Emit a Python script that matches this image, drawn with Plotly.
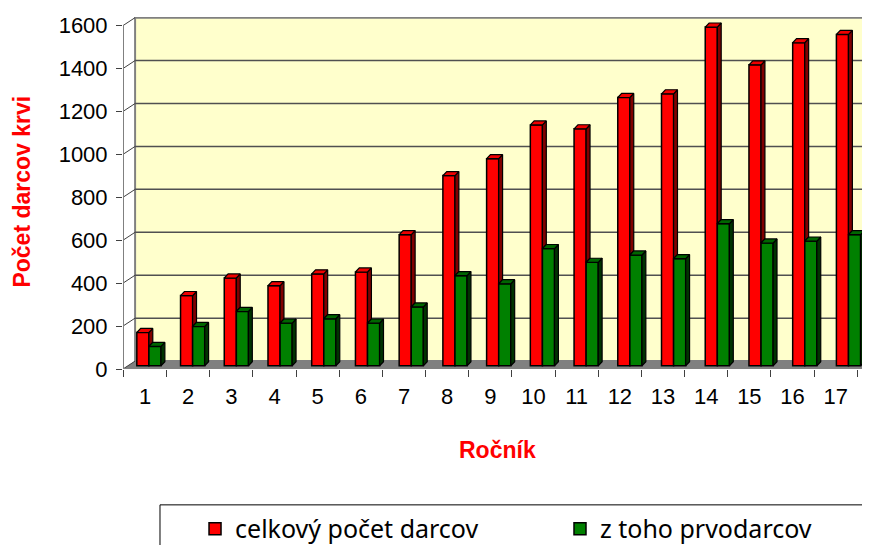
import plotly.graph_objects as go

# data
rocnik = list(range(1, 18))
rocnik_labels = [str(r) for r in rocnik]
celkovy_pocet = [155, 327, 409, 373, 428, 437, 611, 886, 965, 1122, 1104, 1250, 1267, 1578, 1402, 1505, 1544]
prvodarcovia = [90, 183, 253, 199, 219, 199, 274, 420, 382, 546, 482, 516, 499, 662, 572, 581, 611]
y_ticks = [0, 200, 400, 600, 800, 1000, 1200, 1400, 1600]

# fake 3d geometry (data units)
x_lo, x_hi = 0.49, 17.98
wall_dx, wall_dy = 0.28, 37
bar_dx, bar_dy = 0.09, 19
bar_base = 15
bar_w = 0.28
# perspective: the bars drift slightly right of their labels towards the right side
red_off = [-0.19 + 0.0129 * i for i in range(len(rocnik))]
green_off = [o + bar_w for o in red_off]

RED, RED_SIDE, RED_TOP = "#FF0000", "#800000", "#F00000"
GREEN, GREEN_SIDE, GREEN_TOP = "#008000", "#003300", "#006600"


def side_and_top(xs, vals, offs, lower=None):
    side_x, side_y, top_x, top_y = [], [], [], []
    for i, (x, v, off) in enumerate(zip(xs, vals, offs)):
        xl = x + off
        xr = xl + bar_w
        top = bar_base + v
        bottom = bar_base if lower is None else bar_base + lower[i]
        side_x += [xr, xr + bar_dx, xr + bar_dx, xr, xr, None]
        side_y += [bottom, bottom + bar_dy, top + bar_dy, top, bottom, None]
        top_x += [xl, xl + bar_dx, xr + bar_dx, xr, xl, None]
        top_y += [top, top + bar_dy, top + bar_dy, top, top, None]
    return side_x, side_y, top_x, top_y


fig = go.Figure()

for vals, offs, lower, c_side, c_top in [
    (celkovy_pocet, red_off, prvodarcovia, RED_SIDE, RED_TOP),
    (prvodarcovia, green_off, None, GREEN_SIDE, GREEN_TOP),
]:
    sx, sy, tx, ty = side_and_top(rocnik, vals, offs, lower)
    fig.add_trace(go.Scatter(x=sx, y=sy, mode="lines", fill="toself", fillcolor=c_side,
                             line=dict(color="black", width=1.2), showlegend=False, hoverinfo="skip"))
    fig.add_trace(go.Scatter(x=tx, y=ty, mode="lines", fill="toself", fillcolor=c_top,
                             line=dict(color="black", width=1.2), showlegend=False, hoverinfo="skip"))

fig.add_trace(go.Bar(x=rocnik, y=celkovy_pocet, base=bar_base, offset=red_off, width=bar_w,
                     name="celkový počet darcov", legend="legend",
                     marker=dict(color=RED, line=dict(color="black", width=1.5))))
fig.add_trace(go.Bar(x=rocnik, y=prvodarcovia, base=bar_base, offset=green_off, width=bar_w,
                     name="z toho prvodarcov", legend="legend2",
                     marker=dict(color=GREEN, line=dict(color="black", width=1.5))))

shapes = []
# back wall
shapes.append(dict(type="rect", xref="x", yref="y", x0=x_lo + wall_dx, x1=x_hi + 0.5,
                   y0=wall_dy, y1=1600 + wall_dy, fillcolor="#FFFFCC",
                   line=dict(color="#808080", width=2), layer="below"))
# floor
shapes.append(dict(type="path", xref="x", yref="y", layer="below",
                   path=f"M{x_lo},0 L{x_hi + 0.5},0 L{x_hi + 0.5},{wall_dy} L{x_lo + wall_dx},{wall_dy} Z",
                   fillcolor="#808080", line=dict(width=0)))
# gridlines on the back wall + slanted ticks on the side wall
for v in y_ticks:
    if 0 < v < 1600:
        shapes.append(dict(type="line", xref="x", yref="y", layer="below",
                           x0=x_lo + wall_dx, x1=x_hi + 0.5, y0=v + wall_dy, y1=v + wall_dy,
                           line=dict(color="#505050", width=1.5)))
    shapes.append(dict(type="line", xref="x", yref="y", layer="below",
                       x0=x_lo, x1=x_lo + wall_dx, y0=v, y1=v + wall_dy,
                       line=dict(color="#404040", width=1)))
# front axis lines
shapes.append(dict(type="line", xref="x", yref="y", x0=x_lo, x1=x_lo, y0=0, y1=1600,
                   line=dict(color="#808080", width=2), layer="below"))
shapes.append(dict(type="line", xref="x", yref="y", x0=x_lo, x1=x_hi + 0.5, y0=0, y1=0,
                   line=dict(color="#808080", width=2), layer="below"))
# legend box
shapes.append(dict(type="rect", xref="paper", yref="paper", x0=0.049, x1=0.9868,
                   y0=-0.386, y1=-0.58, line=dict(color="black", width=1)))

title_font = dict(family="Liberation Sans", size=23, color="#FF0000")
legend_font = dict(family="Noto Sans", size=25, color="black")

# the page body has an 8px margin, so the margins are shifted by it
fig.update_layout(
    width=870, height=545,
    margin=dict(l=115, r=0, t=9, b=184, autoexpand=False),
    paper_bgcolor="white", plot_bgcolor="white",
    barmode="overlay",
    shapes=shapes,
    font=dict(family="Liberation Sans", size=22, color="black"),
    showlegend=True,
    legend=dict(orientation="h", x=0.0954, xanchor="left", y=-0.4545, yanchor="middle",
                font=legend_font, bgcolor="rgba(0,0,0,0)"),
    legend2=dict(orientation="h", x=0.5788, xanchor="left", y=-0.4545, yanchor="middle",
                 font=legend_font, bgcolor="rgba(0,0,0,0)"),
    annotations=[
        dict(text="<b>Počet darcov krvi</b>", xref="paper", yref="paper", x=-0.1338, y=0.504,
             textangle=-90, showarrow=False, xanchor="center", yanchor="middle", font=title_font),
        dict(text="<b>Ročník</b>", xref="paper", yref="paper", x=0.4954, y=-0.23,
             showarrow=False, xanchor="center", yanchor="middle", font=title_font),
    ],
)

fig.update_xaxes(range=[x_lo, x_hi], tickvals=rocnik, ticktext=rocnik_labels,
                 ticks="outside", ticklen=8, tickcolor="rgba(0,0,0,0)",
                 tickfont=dict(size=22),
                 showgrid=False, zeroline=False, showline=False,
                 minor=dict(tickvals=[r + 0.5 for r in [0] + rocnik], ticks="outside",
                            ticklen=7, tickcolor="#404040", showgrid=False))
fig.update_yaxes(range=[0, 1600 + wall_dy + 3], tickvals=y_ticks,
                 ticks="outside", ticklen=6, tickcolor="#404040", ticklabelstandoff=4,
                 tickfont=dict(size=22),
                 showgrid=False, zeroline=False, showline=False)

fig.write_html("out.html")
